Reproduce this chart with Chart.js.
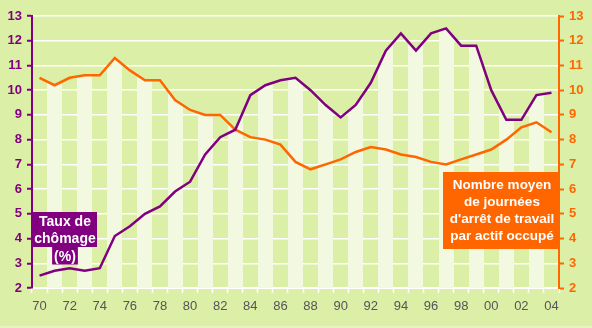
<!DOCTYPE html>
<html>
<head>
<meta charset="utf-8">
<script src="https://cdn.jsdelivr.net/npm/chart.js@4.4.1/dist/chart.umd.min.js"></script>
<style>
    html, body { margin: 0; padding: 0; background: #dcefa6; }
    #chart { display: block; }
</style>
</head>
<body>
<canvas id="chart" width="592" height="328"></canvas>
<script>
// years 1970 - 2004
const years = ['70', '71', '72', '73', '74', '75', '76', '77', '78', '79',
    '80', '81', '82', '83', '84', '85', '86', '87', '88', '89',
    '90', '91', '92', '93', '94', '95', '96', '97', '98', '99',
    '00', '01', '02', '03', '04'];

// Taux de chômage (%)
const chomage = [2.5, 2.7, 2.8, 2.7, 2.8, 4.1, 4.5, 5.0, 5.3, 5.9,
    6.3, 7.4, 8.1, 8.4, 9.8, 10.2, 10.4, 10.5, 10.0, 9.4,
    8.9, 9.4, 10.3, 11.6, 12.3, 11.6, 12.3, 12.5, 11.8, 11.8,
    10.0, 8.8, 8.8, 9.8, 9.9];

// Nombre moyen de journées d'arrêt de travail par actif occupé
const journees = [10.5, 10.2, 10.5, 10.6, 10.6, 11.3, 10.8, 10.4, 10.4, 9.6,
    9.2, 9.0, 9.0, 8.4, 8.1, 8.0, 7.8, 7.1, 6.8, 7.0,
    7.2, 7.5, 7.7, 7.6, 7.4, 7.3, 7.1, 7.0, 7.2, 7.4,
    7.6, 8.0, 8.5, 8.7, 8.3];

const yTicksMin = 2;
const yTicksMax = 13;

const PURPLE = '#800080';
const ORANGE = '#ff6600';
const STRIPE = 'rgba(242, 249, 224, 1)';
const NO_STRIPE = 'rgba(242, 249, 224, 0)';

// the light stripes are filled up to the higher of the two curves
const envelope = chomage.map(function (v, i) {
    return Math.max(v, journees[i]);
});

// horizontal gradient with hard stops: one light column every other year
function stripeFill(context) {
    const chart = context.chart;
    const area = chart.chartArea;
    const xs = chart.scales.x;
    if (!area || !xs) return STRIPE;
    const ctx = chart.ctx;
    const g = ctx.createLinearGradient(area.left, 0, area.right, 0);
    const w = xs.getPixelForValue(1) - xs.getPixelForValue(0);
    const span = area.right - area.left;
    g.addColorStop(0, NO_STRIPE);
    for (let i = 1; i < years.length; i += 2) {
        const cx = xs.getPixelForValue(i);
        const a = Math.max(0, Math.min(1, (cx - w / 2 - area.left) / span));
        const b = Math.max(0, Math.min(1, (cx + w / 2 - area.left) / span));
        g.addColorStop(a, NO_STRIPE);
        g.addColorStop(a, STRIPE);
        g.addColorStop(b, STRIPE);
        g.addColorStop(b, NO_STRIPE);
    }
    g.addColorStop(1, NO_STRIPE);
    return g;
}

// thin lighter band along the bottom edge of the picture
const frame = {
    id: 'frame',
    beforeDraw: function (chart) {
        const ctx = chart.ctx;
        ctx.save();
        ctx.fillStyle = '#e6f4c0';
        ctx.fillRect(0, chart.height - 2, chart.width, 2);
        ctx.restore();
    }
};

// the two coloured captions
const captions = {
    id: 'captions',
    afterDraw: function (chart) {
        const ctx = chart.ctx;
        const area = chart.chartArea;
        ctx.save();
        ctx.font = 'bold 14px "Liberation Sans", Arial, sans-serif';
        ctx.textAlign = 'center';
        ctx.textBaseline = 'middle';

        // Taux de chômage
        const pLines = ['Taux de', 'chômage', '(%)'];
        const px = area.left + 33;
        const py = 222;
        const lh = 17.5;
        ctx.fillStyle = PURPLE;
        ctx.fillRect(area.left, py - 10, 65, lh * 2);
        const w3 = ctx.measureText(pLines[2]).width + 4;
        ctx.fillRect(px - w3 / 2, py - 10 + lh * 2, w3, lh);
        ctx.fillStyle = '#ffffff';
        pLines.forEach(function (t, i) {
            ctx.fillText(t, px, py + i * lh);
        });

        // Nombre moyen de journées...
        ctx.font = 'bold 13.5px "Liberation Sans", Arial, sans-serif';
        const oLines = ['Nombre moyen', 'de journées', 'd\'arrêt de travail', 'par actif occupé'];
        const boxW = 116;
        const ox = area.right - boxW / 2 + 1;
        const oy = 185;
        const olh = 17.2;
        ctx.fillStyle = ORANGE;
        ctx.fillRect(area.right - boxW, oy - 13, boxW, 77);
        ctx.fillStyle = '#ffffff';
        oLines.forEach(function (t, i) {
            ctx.fillText(t, ox, oy + i * olh);
        });
        ctx.restore();
    }
};

const tickFont = { family: '"Liberation Sans", Arial, sans-serif', size: 13, weight: 'bold' };

const config = {
    type: 'line',
    data: {
        labels: years,
        datasets: [
            {
                data: envelope,
                yAxisID: 'y',
                borderWidth: 0,
                borderColor: 'rgba(0,0,0,0)',
                backgroundColor: stripeFill,
                pointRadius: 0,
                fill: 'start',
                tension: 0,
                order: 3
            },
            {
                label: 'Journées',
                data: journees,
                yAxisID: 'y2',
                borderColor: ORANGE,
                borderWidth: 2.5,
                pointRadius: 0,
                fill: false,
                tension: 0,
                order: 2
            },
            {
                label: 'Chômage',
                data: chomage,
                yAxisID: 'y',
                borderColor: PURPLE,
                borderWidth: 2.5,
                pointRadius: 0,
                fill: false,
                tension: 0,
                order: 1
            }
        ]
    },
    options: {
        responsive: false,
        animation: false,
        layout: {
            padding: { top: 16, right: 0, left: 0, bottom: 0 }
        },
        scales: {
            x: {
                offset: true,
                grid: {
                    offset: true,
                    drawOnChartArea: false,
                    tickColor: '#ffffff',
                    tickLength: 5,
                    tickWidth: 1.5
                },
                border: { color: '#ffffff', width: 2 },
                ticks: {
                    autoSkip: false,
                    maxRotation: 0,
                    padding: 6,
                    color: '#555555',
                    font: { family: '"Liberation Sans", Arial, sans-serif', size: 13 },
                    callback: function (value, index) {
                        return index % 2 === 0 ? years[index] : '';
                    }
                },
                afterFit: function (scale) { scale.height = 40; }
            },
            y: {
                position: 'left',
                min: yTicksMin,
                max: yTicksMax,
                grid: {
                    color: '#ffffff',
                    lineWidth: 1.5,
                    tickColor: PURPLE,
                    tickLength: 5,
                    tickWidth: 2
                },
                border: { color: PURPLE, width: 2 },
                ticks: {
                    stepSize: 1,
                    padding: 5,
                    color: PURPLE,
                    font: tickFont
                },
                afterFit: function (scale) { scale.width = 32; }
            },
            y2: {
                position: 'right',
                min: yTicksMin,
                max: yTicksMax,
                grid: {
                    drawOnChartArea: false,
                    tickColor: ORANGE,
                    tickLength: 5,
                    tickWidth: 2
                },
                border: { color: ORANGE, width: 2 },
                ticks: {
                    stepSize: 1,
                    padding: 5,
                    color: ORANGE,
                    font: tickFont
                },
                afterFit: function (scale) { scale.width = 33; }
            }
        },
        plugins: {
            legend: { display: false },
            tooltip: { enabled: false }
        }
    },
    plugins: [frame, captions]
};

new Chart(document.getElementById('chart'), config);
</script>
</body>
</html>
